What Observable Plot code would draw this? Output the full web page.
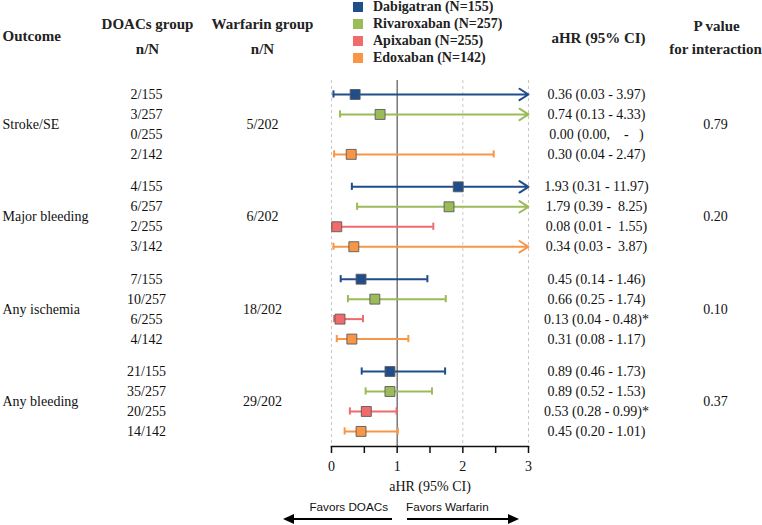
<!DOCTYPE html>
<html>
<head>
<meta charset="utf-8">
<script src="https://cdn.jsdelivr.net/npm/d3@7"></script>
<script src="https://cdn.jsdelivr.net/npm/@observablehq/plot@0.6"></script>
<style>
  html, body { margin: 0; padding: 0; background: #fff; }
  #wrap { position: relative; width: 762px; height: 525px; overflow: hidden; }
  #legend { position: absolute; left: 353px; top: -2px; }
  #legend .lg-swatches { margin: 0 !important; font-family: "Liberation Serif", serif !important; font-size: 14px !important; font-weight: bold; color: #222; }
  #legend .lg-swatch { line-height: 17px; height: 17px; padding-bottom: 0 !important; }
  #legend .lg-swatch > svg { margin-right: 10px !important; }
  #footer { position: absolute; left: 0; top: 496px; width: 762px; height: 29px; font-family: "Liberation Sans", Arial, sans-serif; font-size: 11.7px; color: #111; }
  .fav { position: absolute; top: 4px; white-space: nowrap; }
  .shaft { position: absolute; top: 22px; height: 2px; background: #000; }
  .headL { position: absolute; top: 18px; width: 0; height: 0; border-top: 5px solid transparent; border-bottom: 5px solid transparent; border-right: 11px solid #000; }
  .headR { position: absolute; top: 18px; width: 0; height: 0; border-top: 5px solid transparent; border-bottom: 5px solid transparent; border-left: 11px solid #000; }
</style>
</head>
<body>
<div id="wrap">
  <div id="chart"></div>
  <div id="legend"></div>
  <div id="footer">
    <span class="fav" style="right:374px;">Favors DOACs</span>
    <span class="fav" style="left:406px;">Favors Warfarin</span>
    <div class="headL" style="left:283px;"></div>
    <div class="shaft" style="left:292px; width:100px;"></div>
    <div class="shaft" style="left:407px; width:102px;"></div>
    <div class="headR" style="left:508px;"></div>
  </div>
</div>
<script>
// ---------------- data ----------------
const outcomes = ["Stroke/SE", "Major bleeding", "Any ischemia", "Any bleeding"];
const drugs = ["Dabigatran (N=155)", "Rivaroxaban (N=257)", "Apixaban (N=255)", "Edoxaban (N=142)"];
const drugColors = ["#1f4e8a", "#9bbb59", "#f26b6b", "#f79646"];
const doacEvents = [
  ["2/155", "3/257", "0/255", "2/142"],
  ["4/155", "6/257", "2/255", "3/142"],
  ["7/155", "10/257", "6/255", "4/142"],
  ["21/155", "35/257", "20/255", "14/142"]
];
const warfarinEvents = ["5/202", "6/202", "18/202", "29/202"];
const hrValues = [
  [0.36, 0.74, 0.00, 0.30],
  [1.93, 1.79, 0.08, 0.34],
  [0.45, 0.66, 0.13, 0.31],
  [0.89, 0.89, 0.53, 0.45]
];
const ciLower = [
  [0.03, 0.13, 0.00, 0.04],
  [0.31, 0.39, 0.01, 0.03],
  [0.14, 0.25, 0.04, 0.08],
  [0.46, 0.52, 0.28, 0.20]
];
const ciUpper = [
  [3.97, 4.33, null, 2.47],
  [11.97, 8.25, 1.55, 3.87],
  [1.46, 1.74, 0.48, 1.17],
  [1.73, 1.53, 0.99, 1.01]
];
const ciLabels = [
  ["0.36 (0.03 - 3.97)", "0.74 (0.13 - 4.33)", "0.00 (0.00,    -   )", "0.30 (0.04 - 2.47)"],
  ["1.93 (0.31 - 11.97)", "1.79 (0.39 -  8.25)", "0.08 (0.01 -  1.55)", "0.34 (0.03 -  3.87)"],
  ["0.45 (0.14 - 1.46)", "0.66 (0.25 - 1.74)", "0.13 (0.04 - 0.48)*", "0.31 (0.08 - 1.17)"],
  ["0.89 (0.46 - 1.73)", "0.89 (0.52 - 1.53)", "0.53 (0.28 - 0.99)*", "0.45 (0.20 - 1.01)"]
];
const pValues = ["0.79", "0.20", "0.10", "0.37"];
const xTicks = [0, 0.5, 1, 1.5, 2, 2.5, 3];
const xTickLabels = [0, 1, 2, 3];
const gridValues = [0, 2, 3];
const referenceValue = [1];

// ---------------- layout ----------------
const xMax = 3;
const groupStep = 4.625;
const rows = [];
outcomes.forEach((o, g) => {
  drugs.forEach((d, r) => {
    rows.push({
      outcome: o, drug: d, pos: g * groupStep + r,
      hr: hrValues[g][r], lo: ciLower[g][r], hi: ciUpper[g][r],
      ci: ciLabels[g][r], doac: doacEvents[g][r]
    });
  });
});
const groups = outcomes.map((o, g) => ({
  outcome: o, pos: g * groupStep + 1.5, warfarin: warfarinEvents[g], p: pValues[g]
}));
const drawn = rows.filter(d => d.hi != null);
const capped = drawn.filter(d => d.hi <= xMax);
const overflow = drawn.filter(d => d.hi > xMax);

const serif = "Liberation Serif, Times New Roman, serif";
const hdr = {fontWeight: "bold", fontSize: 15, fill: "#222", textAnchor: "middle"};

const plot = Plot.plot({
  width: 762,
  height: 496,
  marginLeft: 331,
  marginRight: 234,
  marginTop: 80,
  marginBottom: 50,
  style: {fontFamily: serif, fontSize: "14px", color: "#111", background: "white", overflow: "visible"},
  x: {domain: [0, xMax]},
  y: {domain: [-0.7, 17.63], reverse: true, axis: null},
  color: {domain: drugs, range: drugColors},
  marks: [
    Plot.ruleX(gridValues, {stroke: "#c8c8c8", strokeDasharray: "3,3", strokeWidth: 1}),
    Plot.ruleX(referenceValue, {stroke: "#555", strokeWidth: 1.2}),
    Plot.frame({anchor: "bottom", stroke: "#111", strokeWidth: 1.5}),
    Plot.axisX({ticks: xTicks, tickSize: 7, tickFormat: () => "", stroke: "#111", strokeWidth: 1.5}),
    Plot.axisX({ticks: xTickLabels, tickSize: 0, tickPadding: 15, tickFormat: d => String(d), fontSize: 14, fill: "#111"}),
    Plot.text(["aHR (95% CI)"], {frameAnchor: "bottom", dy: 44, fontSize: 14, fill: "#111"}),
    // CI lines
    Plot.ruleY(capped, {y: "pos", x1: "lo", x2: "hi", stroke: "drug", strokeWidth: 2}),
    Plot.arrow(overflow, {x1: "lo", x2: d => Math.min(d.hi, xMax), y1: "pos", y2: "pos", stroke: "drug", strokeWidth: 2, headLength: 8, headAngle: 65}),
    Plot.ruleX(drawn, {x: "lo", y1: d => d.pos - 0.18, y2: d => d.pos + 0.18, stroke: "drug", strokeWidth: 2}),
    Plot.ruleX(capped, {x: "hi", y1: d => d.pos - 0.18, y2: d => d.pos + 0.18, stroke: "drug", strokeWidth: 2}),
    Plot.dot(drawn, {x: "hr", y: "pos", symbol: "square", r: 5.6, fill: "drug", stroke: "#5a5a5a", strokeWidth: 0.9}),
    // row texts
    Plot.text(groups, {y: "pos", text: "outcome", frameAnchor: "left", dx: -329, textAnchor: "start", fill: "#111"}),
    Plot.text(rows, {y: "pos", text: "doac", frameAnchor: "left", dx: -185, textAnchor: "middle", fill: "#111"}),
    Plot.text(groups, {y: "pos", text: "warfarin", frameAnchor: "left", dx: -69, textAnchor: "middle", fill: "#111"}),
    Plot.text(rows, {y: "pos", text: "ci", frameAnchor: "right", dx: 68, textAnchor: "middle", fill: "#111"}),
    Plot.text(groups, {y: "pos", text: "p", frameAnchor: "right", dx: 187, textAnchor: "middle", fill: "#111"}),
    // headers
    Plot.text(["Outcome"], {frameAnchor: "top-left", dx: -329, dy: -50, ...hdr, textAnchor: "start"}),
    Plot.text(["DOACs group"], {frameAnchor: "top-left", dx: -184, dy: -62, ...hdr}),
    Plot.text(["n/N"], {frameAnchor: "top-left", dx: -184, dy: -37, ...hdr}),
    Plot.text(["Warfarin group"], {frameAnchor: "top-left", dx: -69, dy: -62, ...hdr}),
    Plot.text(["n/N"], {frameAnchor: "top-left", dx: -69, dy: -37, ...hdr}),
    Plot.text(["aHR (95% CI)"], {frameAnchor: "top-right", dx: 70, dy: -48, ...hdr}),
    Plot.text(["P value"], {frameAnchor: "top-right", dx: 188, dy: -60, ...hdr}),
    Plot.text(["for interaction"], {frameAnchor: "top-right", dx: 187, dy: -37, ...hdr})
  ]
});
document.getElementById("chart").appendChild(plot);
const legend = plot.legend("color", {legend: "swatches", columns: 1, swatchSize: 10, className: "lg"});
document.getElementById("legend").appendChild(legend);
</script>
</body>
</html>
